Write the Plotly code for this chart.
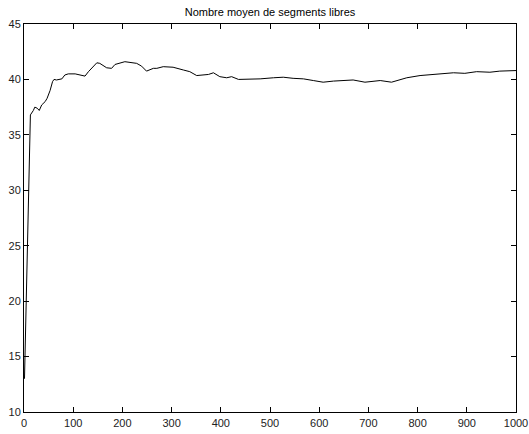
import plotly.graph_objects as go

steps = [1, 13, 19, 22, 27, 31, 36, 43, 47, 53, 58, 61, 66, 77, 83, 90, 104, 124, 131, 140,
         148, 154, 168, 178, 185, 205, 229, 239, 249, 263, 270, 283, 303, 324, 337, 351,
         375, 385, 398, 412, 422, 436, 459, 480, 507, 527, 547, 568, 588, 608, 629, 642,
         656, 669, 693, 724, 747, 778, 805, 839, 873, 896, 920, 947, 967, 1000]
mean_free = [13.0, 36.8, 37.2, 37.5, 37.4, 37.2, 37.7, 38.0, 38.3, 39.0, 39.8, 40.0, 39.95,
             40.05, 40.4, 40.5, 40.5, 40.3, 40.7, 41.15, 41.5, 41.45, 41.05, 41.0, 41.35,
             41.6, 41.45, 41.2, 40.75, 41.0, 41.0, 41.15, 41.1, 40.85, 40.7, 40.35, 40.45,
             40.6, 40.25, 40.15, 40.25, 40.0, 40.0, 40.05, 40.15, 40.2, 40.1, 40.05, 39.9,
             39.75, 39.85, 39.9, 39.9, 39.95, 39.75, 39.9, 39.75, 40.15, 40.35, 40.45, 40.6,
             40.55, 40.7, 40.65, 40.75, 40.8]

x_ticks = [0, 100, 200, 300, 400, 500, 600, 700, 800, 900, 1000]
y_ticks = [10, 15, 20, 25, 30, 35, 40, 45]
title_text = "Nombre moyen de segments libres"

fig = go.Figure()
fig.add_trace(go.Scatter(x=steps, y=mean_free, mode="lines",
                         line=dict(color="black", width=1), showlegend=False))

axis_common = dict(showline=True, linecolor="black", linewidth=1, mirror="ticks",
                   ticks="inside", ticklen=5, tickcolor="black", tickwidth=1,
                   showgrid=False, zeroline=False, automargin=False,
                   tickfont=dict(family="Liberation Sans, Arial, sans-serif", size=11, color="#222"))

fig.update_xaxes(range=[0, 1000], tickvals=x_ticks, ticklabelstandoff=1, **axis_common)
fig.update_yaxes(range=[10, 45], tickvals=y_ticks, ticklabelstandoff=0, **axis_common)

fig.update_layout(
    width=529, height=434,
    margin=dict(l=24, r=13, t=24, b=22),
    paper_bgcolor="white", plot_bgcolor="white",
    title=dict(text=title_text, x=0.5, xanchor="center", xref="paper",
               y=1 - 12 / 434, yanchor="middle", automargin=False,
               font=dict(family="Liberation Sans, Arial, sans-serif", size=11, color="black")),
)

fig.write_html("out.html", config={"displayModeBar": False},
               post_script="document.body.style.margin='0';document.body.style.overflow='hidden';")
